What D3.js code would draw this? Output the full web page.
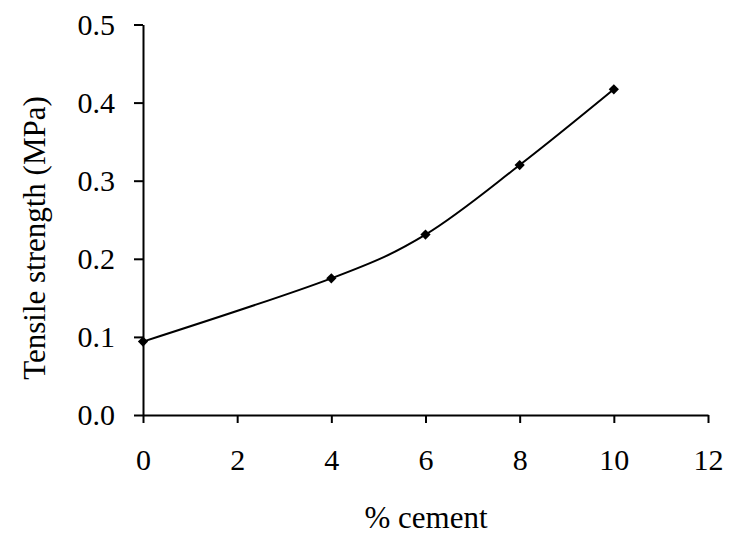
<!DOCTYPE html>
<html><head><meta charset="utf-8">
<script src="https://cdn.jsdelivr.net/npm/d3@7"></script>
<style>body{margin:0;background:#fff;-webkit-font-smoothing:antialiased}svg{display:block}text{font-family:"Liberation Serif","Times New Roman",serif;fill:#000}</style>
</head><body>
<svg id="c" width="730" height="535"></svg>
<script>
const cementPct = [0, 4, 6, 8, 10];
const tensileStrength = [0.094, 0.175, 0.231, 0.320, 0.417];
const xTicks = [0, 2, 4, 6, 8, 10, 12];
const yTicks = [0, 0.1, 0.2, 0.3, 0.4, 0.5];

const svg = d3.select("#c");
const x = d3.scaleLinear().domain([0, 12]).range([143, 708]);
const y = d3.scaleLinear().domain([0, 0.5]).range([415, 24.5]);

const gx = svg.append("g").attr("transform", "translate(0,415)")
  .call(d3.axisBottom(x).tickValues(xTicks).tickSize(8).tickSizeOuter(0).tickPadding(26).tickFormat(d3.format("d")));
const gy = svg.append("g").attr("transform", "translate(143,0)")
  .call(d3.axisLeft(y).tickValues(yTicks).tickSize(9).tickSizeOuter(0).tickPadding(19).tickFormat(d3.format(".1f")));
[gx, gy].forEach(g => {
  g.attr("font-size", 30).attr("font-family", "Liberation Serif, serif");
  g.selectAll("path.domain").attr("stroke", "#000").attr("stroke-width", 2);
  g.selectAll(".tick line").attr("stroke", "#000").attr("stroke-width", 2);
  g.selectAll(".tick text").attr("fill", "#000");
});

const pts = cementPct.map((c, i) => [c, tensileStrength[i]]);
svg.append("path")
  .attr("d", d3.line().x(d => x(d[0])).y(d => y(d[1])).curve(d3.curveCardinal.tension(0))(pts))
  .attr("fill", "none").attr("stroke", "#000").attr("stroke-width", 2);

svg.selectAll("path.m").data(pts).join("path").attr("class", "m")
  .attr("d", d3.symbol(d3.symbolSquare, 52)())
  .attr("transform", d => `translate(${x(d[0])},${y(d[1])}) rotate(45)`)
  .attr("fill", "#000");

svg.append("text").attr("x", 426).attr("y", 528).attr("text-anchor", "middle")
  .attr("font-size", 31).attr("fill", "#000").text("% cement");
svg.append("text").attr("transform", "translate(45,238) rotate(-90)").attr("text-anchor", "middle")
  .attr("font-size", 31).attr("fill", "#000").text("Tensile strength (MPa)");
</script>
</body></html>
